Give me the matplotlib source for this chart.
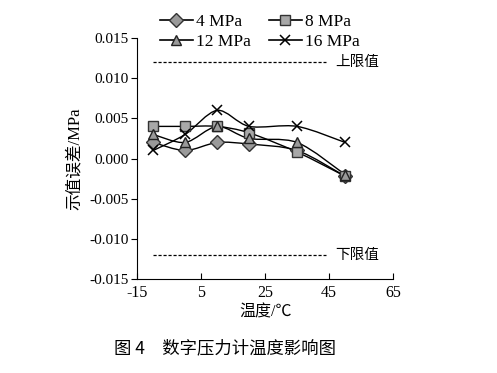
import numpy as np
import matplotlib
matplotlib.use("Agg")
import matplotlib.pyplot as plt
from matplotlib.path import Path
from matplotlib.patches import PathPatch
from matplotlib.lines import Line2D

plt.rcParams['font.family'] = ['Liberation Serif', 'Noto Sans CJK SC']
plt.rcParams['axes.unicode_minus'] = False

temps = [-10, 0, 10, 20, 35, 50]
err_4 = [0.002, 0.001, 0.002, 0.0018, 0.001, -0.0022]
err_8 = [0.004, 0.004, 0.004, 0.0032, 0.0008, -0.0022]
err_12 = [0.003, 0.002, 0.004, 0.0025, 0.002, -0.002]
err_16 = [0.001, 0.003, 0.006, 0.004, 0.004, 0.002]
series_labels = ['4 MPa', '8 MPa', '12 MPa', '16 MPa']
limit_x = [-10, 44]
upper_limit = 0.012
lower_limit = -0.012
x_ticks = [-15, 5, 25, 45, 65]
y_ticks = [-0.015, -0.010, -0.005, 0.000, 0.005, 0.010, 0.015]


def smooth_path(x, y, k=0.15):
    # Catmull-Rom style cubic bezier through the data points
    x = np.asarray(x, float)
    y = np.asarray(y, float)
    verts = [(x[0], y[0])]
    codes = [Path.MOVETO]
    n = len(x)
    for i in range(n - 1):
        i0 = max(i - 1, 0)
        i3 = min(i + 2, n - 1)
        c1 = (x[i] + (x[i + 1] - x[i0]) * k, y[i] + (y[i + 1] - y[i0]) * k)
        c2 = (x[i + 1] - (x[i3] - x[i]) * k, y[i + 1] - (y[i3] - y[i]) * k)
        verts += [c1, c2, (x[i + 1], y[i + 1])]
        codes += [Path.CURVE4] * 3
    return Path(verts, codes)


fig = plt.figure(figsize=(4.97, 3.73), dpi=100)
ax = fig.add_axes([0.276, 0.252, 0.515, 0.646])

styles = [
    dict(marker='D', markersize=7, markerfacecolor='#9a9a9a', markeredgecolor='#333333'),
    dict(marker='s', markersize=7, markerfacecolor='#a8a8a8', markeredgecolor='#333333'),
    dict(marker='^', markersize=7, markerfacecolor='#9a9a9a', markeredgecolor='#222222'),
    dict(marker='x', markersize=7.5, markeredgecolor='black', markeredgewidth=1.1),
]
all_series = [err_4, err_8, err_12, err_16]

handles = []
for vals, st, lab in zip(all_series, styles, series_labels):
    ax.add_patch(PathPatch(smooth_path(temps, vals), facecolor='none',
                           edgecolor='black', lw=1.0, zorder=2))
    ax.plot(temps, vals, linestyle='none', zorder=3, **st)
    handles.append(Line2D([], [], color='black', lw=1.2, label=lab, **st))

ax.plot(limit_x, [upper_limit, upper_limit], ls=(0, (2.5, 1.5)), color='black', lw=0.9)
ax.plot(limit_x, [lower_limit, lower_limit], ls=(0, (2.5, 1.5)), color='black', lw=0.9)
ax.text(47, upper_limit, '上限值', va='center', ha='left', fontsize=10.5,
        family=['Noto Sans CJK SC'])
ax.text(47, lower_limit, '下限值', va='center', ha='left', fontsize=10.5,
        family=['Noto Sans CJK SC'])

ax.set_xlim(-15, 65)
ax.set_ylim(-0.015, 0.015)
ax.set_xticks(x_ticks)
ax.set_yticks(y_ticks)
ax.set_yticklabels(['%.3f' % v for v in y_ticks])
ax.spines['top'].set_visible(False)
ax.spines['right'].set_visible(False)
ax.tick_params(axis='x', direction='in', length=4, labelsize=11.5, pad=4)
ax.tick_params(axis='y', direction='out', length=4, labelsize=11, pad=2)
ax.set_xlabel('温度/℃', fontsize=11.5, labelpad=3)
ax.set_ylabel('示值误差/MPa', fontsize=12, labelpad=5)

# row-wise legend order: 4, 8 / 12, 16
leg_order = [handles[0], handles[2], handles[1], handles[3]]
fig.legend(handles=leg_order, ncol=2, loc='center', bbox_to_anchor=(0.523, 0.914),
           frameon=False, fontsize=12.5, handlelength=1.9, handletextpad=0.2,
           columnspacing=1.0, labelspacing=0.2, borderpad=0)

fig.text(0.23, 0.067, '图 4　数字压力计温度影响图', fontsize=12.5, ha='left', va='center',
         family=['Noto Sans CJK SC'])

fig.savefig('out.png', dpi=100)
